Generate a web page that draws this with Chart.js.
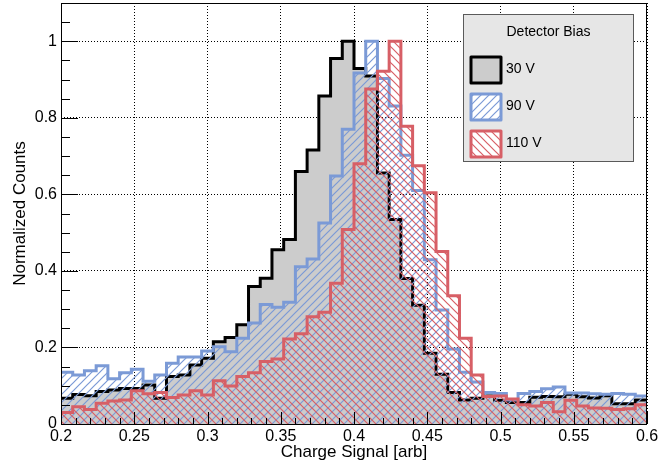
<!DOCTYPE html>
<html>
<head>
<meta charset="utf-8">
<script src="https://cdn.jsdelivr.net/npm/chart.js@4.4.1/dist/chart.umd.min.js"></script>
<style>
  html, body { margin: 0; background: #fff; }
</style>
</head>
<body>
<canvas id="charge" width="660" height="470"></canvas>
<script>
// histogram binning: 50 bins from 0.2 to 0.6
const binLow = 0.2;
const binWidth = 0.008;

const bias30 = [0.067, 0.077, 0.074, 0.085, 0.089, 0.093, 0.093, 0.102, 0.067, 0.124,
                0.128, 0.154, 0.172, 0.215, 0.226, 0.259, 0.359, 0.381, 0.455, 0.482,
                0.660, 0.716, 0.857, 0.955, 1.000, 0.929, 0.909, 0.656, 0.534, 0.380,
                0.310, 0.185, 0.130, 0.082, 0.063, 0.067, 0.073, 0.062, 0.056, 0.056,
                0.070, 0.072, 0.071, 0.078, 0.071, 0.068, 0.074, 0.053, 0.053, 0.063];
const bias90 = [0.135, 0.128, 0.139, 0.152, 0.118, 0.134, 0.143, 0.112, 0.128, 0.159,
                0.175, 0.175, 0.191, 0.202, 0.189, 0.224, 0.264, 0.312, 0.305, 0.318,
                0.411, 0.431, 0.525, 0.648, 0.770, 0.917, 1.000, 0.903, 0.831, 0.702,
                0.610, 0.429, 0.298, 0.196, 0.135, 0.110, 0.082, 0.080, 0.063, 0.080,
                0.085, 0.092, 0.097, 0.081, 0.081, 0.079, 0.078, 0.080, 0.078, 0.073];
const bias110 = [0.030, 0.045, 0.038, 0.054, 0.060, 0.063, 0.087, 0.079, 0.082, 0.069,
                 0.076, 0.087, 0.076, 0.113, 0.099, 0.124, 0.134, 0.163, 0.170, 0.222,
                 0.236, 0.280, 0.292, 0.368, 0.508, 0.680, 0.875, 0.922, 1.000, 0.778,
                 0.675, 0.604, 0.451, 0.335, 0.224, 0.128, 0.072, 0.073, 0.065, 0.050,
                 0.047, 0.056, 0.032, 0.062, 0.047, 0.042, 0.041, 0.038, 0.040, 0.050];

const seriesLabels = ["30 V", "90 V", "110 V"];
const legendTitle = "Detector Bias";
const xTitle = "Charge Signal [arb]";
const yTitle = "Normalized Counts";

const blue = "#7b9ad6";
const red = "#d75f66";
const FONT = "'Liberation Sans', Arial, Helvetica, sans-serif";

Chart.defaults.font.family = FONT;
Chart.defaults.color = "#000";

// ROOT style hatch fill (3004 / 3005 like)
function hatch(color, up) {
  const s = 8;
  const c = document.createElement("canvas");
  c.width = s; c.height = s;
  const g = c.getContext("2d");
  g.strokeStyle = color;
  g.lineWidth = 1.2;
  g.beginPath();
  for (let k = -1; k <= 1; k++) {
    if (up) {
      g.moveTo(k * s - 1, s + 1); g.lineTo(k * s + s + 1, -1);
    } else {
      g.moveTo(k * s - 1, -1); g.lineTo(k * s + s + 1, s + 1);
    }
  }
  g.stroke();
  return g.createPattern(c, "repeat");
}

// left bin edges + closing edge, drawn as steps
function histPoints(values) {
  const pts = values.map((v, i) => ({ x: binLow + i * binWidth, y: v }));
  pts.push({ x: binLow + values.length * binWidth, y: values[values.length - 1] });
  return pts;
}

function histSet(label, values, line, fill, order) {
  return {
    label: label,
    data: histPoints(values),
    borderColor: line,
    backgroundColor: fill,
    borderWidth: 3,
    stepped: "before",
    fill: "origin",
    pointRadius: 0,
    order: order
  };
}

// ticks drawn inside the frame, plus the frame itself
const rootFrame = {
  id: "rootFrame",
  afterDatasetsDraw(chart) {
    const { ctx, chartArea: a, scales: { x, y } } = chart;
    ctx.save();
    ctx.strokeStyle = "#000";
    ctx.lineWidth = 1;
    ctx.beginPath();
    for (let i = 0; i * 0.05 <= y.max + 1e-9; i++) {
      const py = Math.round(y.getPixelForValue(i * 0.05)) + 0.5;
      const len = i % 4 === 0 ? 17 : 9;
      ctx.moveTo(a.left, py);
      ctx.lineTo(a.left + len, py);
    }
    for (let i = 0; i <= 40; i++) {
      const px = Math.round(x.getPixelForValue(0.2 + i * 0.01)) + 0.5;
      const len = i % 5 === 0 ? 12 : 6;
      ctx.moveTo(px, a.bottom);
      ctx.lineTo(px, a.bottom - len);
    }
    ctx.stroke();
    ctx.strokeRect(Math.round(a.left) + 0.5, Math.round(a.top) + 0.5,
                   Math.round(a.width) - 1, Math.round(a.height));
    ctx.restore();
  }
};

// TLegend-like box, position in pad fractions
const legendNDC = { x1: 0.702, y1: 0.655, x2: 0.960, y2: 0.970 };
const rootLegend = {
  id: "rootLegend",
  afterDraw(chart) {
    const ctx = chart.ctx;
    const W = chart.width, H = chart.height;
    const x1 = Math.round(legendNDC.x1 * W), x2 = Math.round(legendNDC.x2 * W);
    const top = Math.round((1 - legendNDC.y2) * H), bot = Math.round((1 - legendNDC.y1) * H);
    const rowH = (bot - top) / 4;
    ctx.save();
    ctx.fillStyle = "#e6e6e6";
    ctx.fillRect(x1, top, x2 - x1, bot - top);
    ctx.strokeStyle = "#5a5a5a";
    ctx.lineWidth = 1;
    ctx.strokeRect(x1 + 0.5, top + 0.5, x2 - x1 - 1, bot - top - 1);

    ctx.fillStyle = "#000";
    ctx.font = "14px " + FONT;
    ctx.textAlign = "center";
    ctx.textBaseline = "middle";
    ctx.fillText(legendTitle, (x1 + x2) / 2, top + rowH / 2);

    ctx.textAlign = "left";
    chart.data.datasets.forEach((ds, i) => {
      const cy = top + rowH * (i + 1.5);
      const bw = 30, bh = Math.round(rowH * 0.7);
      const bx = x1 + 8, by = Math.round(cy - bh / 2);
      ctx.fillStyle = i === 0 ? ds.backgroundColor : "#ffffff";
      ctx.fillRect(bx, by, bw, bh);
      ctx.fillStyle = ds.backgroundColor;
      ctx.fillRect(bx, by, bw, bh);
      ctx.strokeStyle = ds.borderColor;
      ctx.lineWidth = 3;
      ctx.lineJoin = "round";
      ctx.strokeRect(bx, by, bw, bh);
      ctx.fillStyle = "#000";
      ctx.fillText(ds.label, bx + bw + 5, cy);
    });
    ctx.restore();
  }
};

const label2 = v => String(Math.round(v * 100) / 100);

new Chart(document.getElementById("charge"), {
  type: "line",
  data: {
    datasets: [
      histSet(seriesLabels[0], bias30, "#000000", "#cccccc", 3),
      histSet(seriesLabels[1], bias90, blue, hatch(blue, true), 2),
      histSet(seriesLabels[2], bias110, red, hatch(red, false), 1)
    ]
  },
  options: {
    responsive: false,
    animation: false,
    devicePixelRatio: 1,
    layout: { padding: { top: 3, right: 13, left: 0, bottom: 0 } },
    scales: {
      x: {
        type: "linear",
        min: 0.2,
        max: 0.6,
        afterFit: s => { s.height = 46; s.paddingLeft = 0; s.paddingRight = 0; },
        ticks: { stepSize: 0.05, callback: label2, font: { size: 16 }, padding: 3, maxRotation: 0, autoSkip: false },
        grid: { color: "#000", lineWidth: 1, drawTicks: false },
        border: { display: false, dash: [1, 2] },
        title: { display: true, text: xTitle, font: { size: 17 }, padding: { top: 0, bottom: 7 } }
      },
      y: {
        min: 0,
        max: 1.1,
        afterFit: s => { s.width = 61; s.paddingTop = 0; s.paddingBottom = 0; },
        ticks: { stepSize: 0.2, includeBounds: false, callback: label2, font: { size: 16 }, padding: 4 },
        grid: { color: "#000", lineWidth: 1, drawTicks: false },
        border: { display: false, dash: [1, 2] },
        title: { display: true, text: yTitle, font: { size: 17 }, padding: { top: 10, bottom: 0 } }
      }
    },
    plugins: {
      legend: { display: false },
      tooltip: { enabled: false }
    }
  },
  plugins: [rootFrame, rootLegend]
});
</script>
</body>
</html>
